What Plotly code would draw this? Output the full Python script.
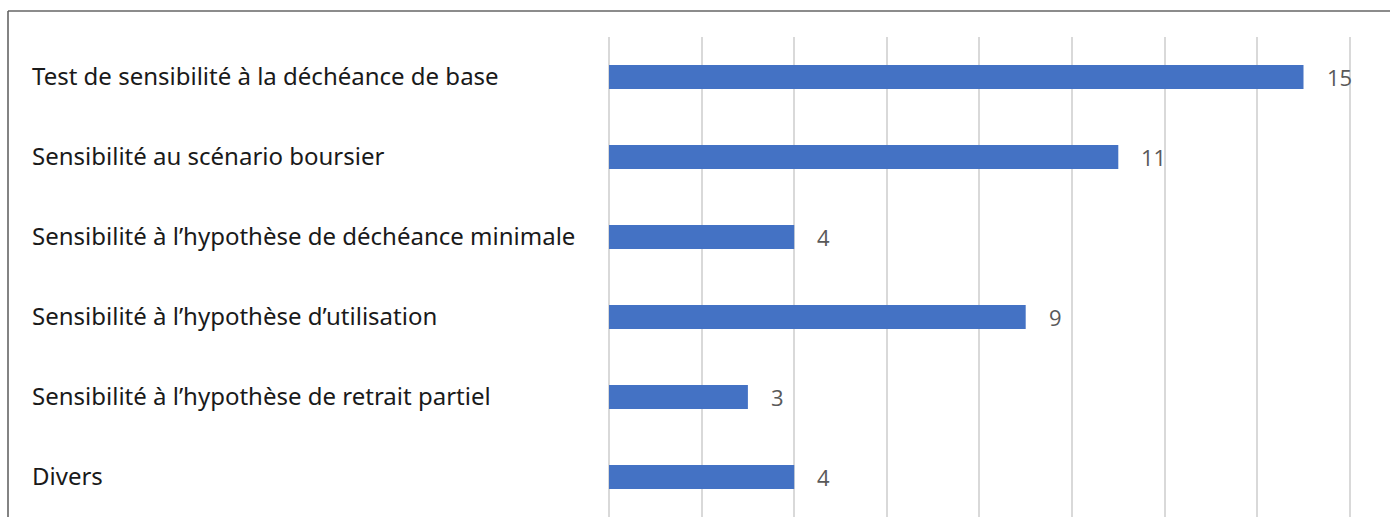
import plotly.graph_objects as go

categories = [
    "Test de sensibilité à la déchéance de base",
    "Sensibilité au scénario boursier",
    "Sensibilité à l’hypothèse de déchéance minimale",
    "Sensibilité à l’hypothèse d’utilisation",
    "Sensibilité à l’hypothèse de retrait partiel",
    "Divers",
]
values = [15, 11, 4, 9, 3, 4]

W, H = 1390, 517
x_zero = 609
unit = 46.3
xmax = 16.1
x1 = x_zero + unit * xmax
top = 37

fig = go.Figure()
fig.add_trace(go.Bar(
    y=categories, x=values, orientation="h",
    marker=dict(color="#4472C4", line=dict(color="#4472C4", width=0)),
    hoverinfo="skip",
))

ann = []
for c, v in zip(categories, values):
    ann.append(dict(x=30 / W, xref="paper", y=c, yref="y", text=c, showarrow=False,
                    xanchor="left", yanchor="middle", yshift=2,
                    font=dict(family="Noto Sans", size=24, color="#1a1a1a")))
    ann.append(dict(x=v, xref="x", y=c, yref="y", text=str(v), showarrow=False,
                    xanchor="left", yanchor="middle", xshift=21,
                    font=dict(family="Open Sans", size=22, color="#595959")))

fig.update_layout(
    width=W, height=H,
    margin=dict(l=0, r=0, t=top, b=0),
    paper_bgcolor="white", plot_bgcolor="white",
    bargap=0.7,
    showlegend=False,
    xaxis=dict(domain=[x_zero / W, x1 / W], range=[0, xmax], dtick=2, showgrid=True,
               gridcolor="#d9d9d9", gridwidth=1.5, zeroline=True,
               zerolinecolor="#d9d9d9", zerolinewidth=1.5,
               showticklabels=False, showline=False, fixedrange=True),
    yaxis=dict(autorange="reversed", showticklabels=False, showgrid=False,
               zeroline=False, showline=False),
    annotations=ann,
    shapes=[
        dict(type="line", xref="paper", yref="paper",
             x0=8 / W, x1=1.0, y0=1 + (top - 11) / (H - top), y1=1 + (top - 11) / (H - top),
             line=dict(color="#8c8c8c", width=2)),
        dict(type="line", xref="paper", yref="paper",
             x0=8 / W, x1=8 / W, y0=-0.01, y1=1 + (top - 11) / (H - top),
             line=dict(color="#5a5a5a", width=1.5)),
    ],
)

fig.write_html("out.html")
